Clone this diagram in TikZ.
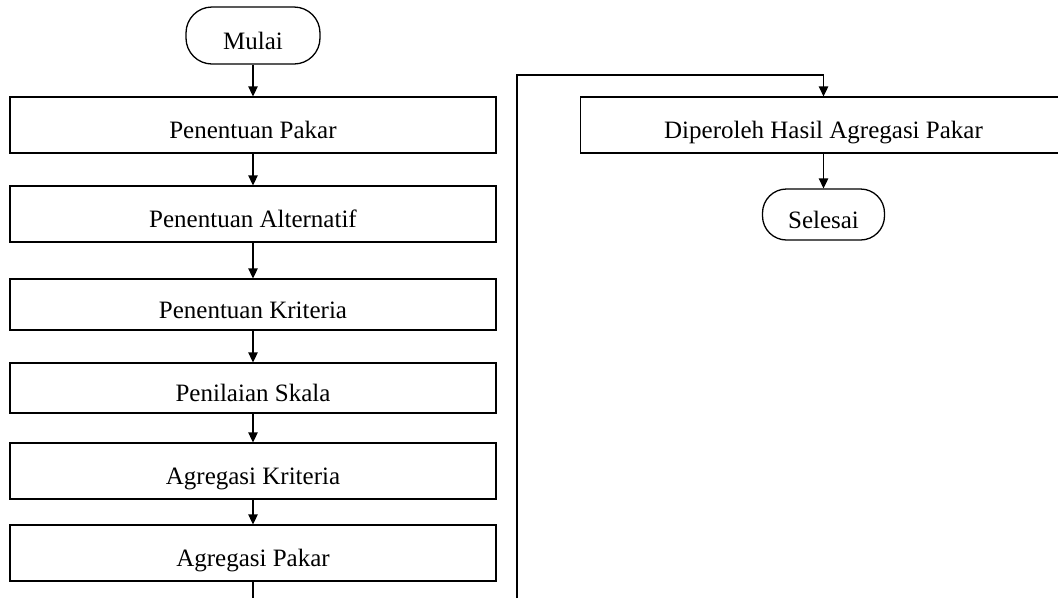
\documentclass[tikz,border=0pt]{standalone}
\usepackage{fontspec}
\setmainfont{Liberation Serif}
\usetikzlibrary{arrows.meta}
\begin{document}
\begin{tikzpicture}[x=1pt,y=-1pt,
  line width=1.3pt,
  every node/.style={font=\fontsize{25}{30}\selectfont, text height=27pt, text depth=0pt, inner sep=0pt},
  procbox/.style={draw, rectangle, minimum width=486pt},
  term/.style={draw, rectangle, rounded corners=26pt},
  flow/.style={-{Triangle[length=10pt,width=9.5pt]}}]
\useasboundingbox (0,0) rectangle (1058,598);
\node[term, minimum width=134pt, minimum height=57pt] (mulai) at (253,35.5) {Mulai};
\node[procbox, minimum height=56pt] (pakar) at (253,125) {Penentuan Pakar};
\node[procbox, minimum height=56pt] (alt) at (253,214) {Penentuan Alternatif};
\node[procbox, minimum height=51pt] (krit) at (253,304.5) {Penentuan Kriteria};
\node[procbox, minimum height=50pt] (skala) at (253,388) {Penilaian Skala};
\node[procbox, minimum height=56pt] (aggk) at (253,471) {Agregasi Kriteria};
\node[procbox, minimum height=56pt] (aggp) at (253,553) {Agregasi Pakar};
\node[procbox, minimum height=56pt] (dip) at (823.5,125) {Diperoleh Hasil Agregasi Pakar};
\node[term, minimum width=122pt, minimum height=51pt, rounded corners=24pt] (sel) at (823.5,214.5) {Selesai};
\coordinate (bl) at (253,598);
\coordinate (br) at (517,598);
\coordinate (topc) at (823.5,75);
\draw[flow] (mulai) -- (pakar);
\draw[flow] (pakar) -- (alt);
\draw[flow] (alt) -- (krit);
\draw[flow] (krit) -- (skala);
\draw[flow] (skala) -- (aggk);
\draw[flow] (aggk) -- (aggp);
\draw (aggp) -- (bl);
\draw[flow] (br) |- (topc) -- (dip);
\draw[flow] (dip) -- (sel);
\end{tikzpicture}
\end{document}
